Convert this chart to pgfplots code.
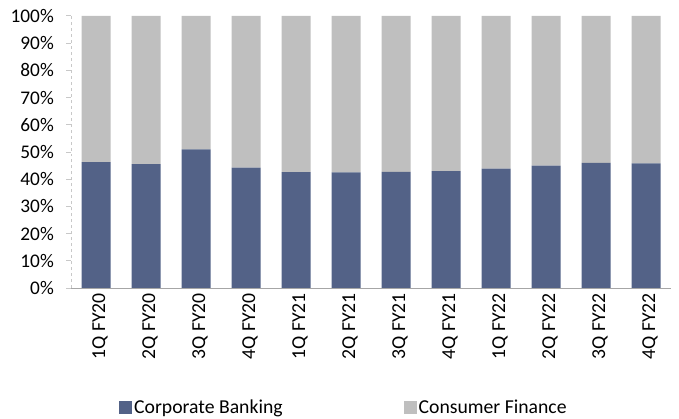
\documentclass[border=0pt]{standalone}
\usepackage{pgfplots}
\pgfplotsset{compat=1.18}
\usepackage{fontspec}
\setmainfont{Carlito}
\definecolor{corp}{RGB}{83,98,135}
\definecolor{cons}{RGB}{191,191,191}
\definecolor{axgray}{RGB}{166,166,166}
\definecolor{ydash}{RGB}{200,200,200}
\begin{document}
\fontsize{19.7bp}{23bp}\selectfont
\begin{tikzpicture}
\useasboundingbox (0,0) rectangle (679bp,419bp);
\begin{axis}[
  at={(71bp,131bp)}, anchor=south west,
  scale only axis, width=600bp, height=272bp,
  ybar stacked, bar width=29bp,
  xmin=-0.5, xmax=11.5, ymin=0, ymax=100,
  axis x line*=bottom, axis y line*=left,
  x axis line style={axgray, line width=1pt},
  y axis line style={ydash, dashed, line width=1pt},
  xtick={0,...,11},
  xticklabels={1Q FY20,2Q FY20,3Q FY20,4Q FY20,1Q FY21,2Q FY21,3Q FY21,4Q FY21,1Q FY22,2Q FY22,3Q FY22,4Q FY22},
  minor xtick={-0.5,0.5,...,11.5},
  xtick style={draw=none},
  minor x tick style={axgray, line width=1pt},
  tick align=outside, major tick length=5bp, minor tick length=6bp,
  ytick={0,10,...,100},
  yticklabels={0\%,10\%,20\%,30\%,40\%,50\%,60\%,70\%,80\%,90\%,100\%},
  ytick style={ydash, line width=1pt},
  yticklabel style={font=\fontsize{19.3bp}{22bp}\selectfont, inner sep=0pt, anchor=east, xshift=-12bp},
  xticklabel style={font=\fontsize{19.7bp}{23bp}\selectfont, inner sep=0pt, rotate=90, anchor=east, yshift=-4bp},
  legend style={at={(0.08,-0.441)}, anchor=west, draw=none, fill=none, inner sep=0pt,
    font=\fontsize{19.7bp}{23bp}\selectfont, legend columns=2,
    /tikz/every even column/.append style={column sep=119bp},
    legend cell align=left},
  legend image code/.code={\fill[#1] (0bp,-6.5bp) rectangle (13bp,6.5bp);},
]
\addplot[fill=corp, draw=none] coordinates {(0,46.3) (1,45.5) (2,51.0) (3,44.3) (4,42.6) (5,42.5) (6,42.7) (7,43.0) (8,43.9) (9,45.0) (10,46.0) (11,45.8)};
\addplot[fill=cons, draw=none] coordinates {(0,53.7) (1,54.5) (2,49.0) (3,55.7) (4,57.4) (5,57.5) (6,57.3) (7,57.0) (8,56.1) (9,55.0) (10,54.0) (11,54.2)};
\legend{Corporate Banking, Consumer Finance}
\end{axis}
\end{tikzpicture}
\end{document}
